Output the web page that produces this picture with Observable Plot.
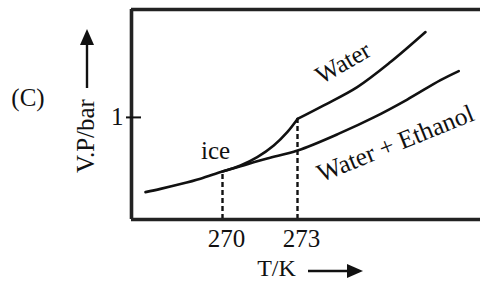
<!DOCTYPE html>
<html>
<head>
<meta charset="utf-8">
<script src="https://cdn.jsdelivr.net/npm/d3@7"></script>
<script src="https://cdn.jsdelivr.net/npm/@observablehq/plot@0.6"></script>
<style>
  html, body { margin: 0; padding: 0; background: #fff; }
  svg { display: block; }
</style>
</head>
<body>
<div id="chart"></div>
<script>
// Lower curve: ice (below 270 K) continuing as Water + Ethanol solution
const T_low = [266.92, 267.52, 268.32, 269.12, 270.0, 270.72, 271.79, 273.0, 274.72, 276.05, 277.39, 278.72, 279.45];
const P_low = [0.268, 0.300, 0.347, 0.400, 0.471, 0.522, 0.597, 0.675, 0.848, 1.000, 1.175, 1.365, 1.454];
// Ice curve from 270 K to 273 K
const T_ice = [270.0, 270.72, 271.39, 272.05, 272.59, 273.0];
const P_ice = [0.471, 0.529, 0.611, 0.725, 0.856, 0.985];
// Pure water curve above 273 K
const T_water = [273.0, 274.05, 275.39, 276.72, 278.12];
const P_water = [0.985, 1.118, 1.297, 1.542, 1.836];
// Tick labels
const xTicks = [270, 273];
const yTicks = [1];
const yTickLabels = ["1"];

const low = T_low.map((t, i) => ({T: t, P: P_low[i]}));
const ice = T_ice.map((t, i) => ({T: t, P: P_ice[i]}));
const water = T_water.map((t, i) => ({T: t, P: P_water[i]}));
const drops = [{T: xTicks[0], P: P_ice[0]}, {T: xTicks[1], P: P_ice[P_ice.length - 1]}];

const xDom = [266.36, 280.32];
const yDom = [0, 2.057];
const font = "Liberation Serif, Times New Roman, serif";
const ink = "#111";

const plot = Plot.plot({
  width: 480,
  height: 282,
  marginLeft: 131,
  marginRight: 0,
  marginTop: 9,
  marginBottom: 63,
  style: {fontFamily: font, background: "#fff", color: ink},
  x: {domain: xDom},
  y: {domain: yDom},
  marks: [
    Plot.ruleX(drops, {x: "T", y1: 0, y2: "P", stroke: ink, strokeWidth: 2.4, strokeDasharray: "5,3"}),
    Plot.line(low, {x: "T", y: "P", curve: "catmull-rom", stroke: ink, strokeWidth: 2.6}),
    Plot.line(ice, {x: "T", y: "P", curve: "catmull-rom", stroke: ink, strokeWidth: 2.6}),
    Plot.line(water, {x: "T", y: "P", curve: "catmull-rom", stroke: ink, strokeWidth: 2.6}),
    Plot.ruleX([xDom[0]], {stroke: "#222", strokeWidth: 3.6}),
    Plot.ruleY([yDom[0], yDom[1]], {stroke: "#222", strokeWidth: 3.6}),
    Plot.axisY({ticks: yTicks, tickFormat: (d, i) => yTickLabels[i], tickSize: 15, dx: 10, tickPadding: 3, strokeWidth: 2, fontSize: 25, label: null, fill: ink}),
    Plot.axisX({ticks: xTicks, tickSize: 0, tickPadding: 10, dx: 4, fontSize: 25, label: null, fill: ink}),
    Plot.text(["ice"], {x: () => 269.72, y: () => 0.667, text: d => d, fontSize: 25, fill: ink}),
    Plot.text(["Water"], {x: () => 274.82, y: () => 1.534, text: d => d, rotate: -30, fontSize: 25, fill: ink}),
    Plot.text(["Water + Ethanol"], {x: () => 276.92, y: () => 0.745, text: d => d, rotate: -22, fontSize: 25.5, fill: ink}),
    Plot.text(["(C)"], {frameAnchor: "left", textAnchor: "middle", lineAnchor: "middle", dx: -103.5, dy: -16.5, text: d => d, fontSize: 25, fill: ink}),
    Plot.text(["V.P/bar"], {frameAnchor: "left", textAnchor: "middle", lineAnchor: "middle", dx: -46, dy: 21.5, rotate: -90, text: d => d, fontSize: 25, fill: ink}),
    Plot.text(["T/K"], {frameAnchor: "bottom", textAnchor: "middle", lineAnchor: "middle", dx: -29.5, dy: 49, text: d => d, fontSize: 24, fill: ink})
  ]
});

const svg = d3.select(plot);
const g = svg.append("g").attr("stroke", ink).attr("fill", ink);
// y-axis title arrow (upward)
g.append("line").attr("x1", 87).attr("x2", 87).attr("y1", 88).attr("y2", 42).attr("stroke-width", 2.4);
g.append("path").attr("d", "M87,29L80,45L94,45Z").attr("stroke", "none");
// x-axis title arrow (rightward)
g.append("line").attr("x1", 308).attr("x2", 350).attr("y1", 271).attr("y2", 271).attr("stroke-width", 2.4);
g.append("path").attr("d", "M363,271L347,264L347,278Z").attr("stroke", "none");

document.getElementById("chart").append(plot);
</script>
</body>
</html>
